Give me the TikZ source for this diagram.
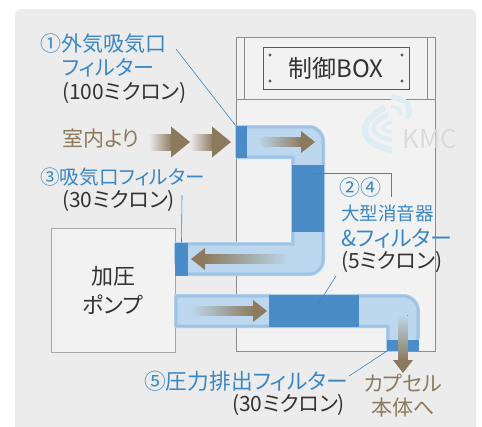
\documentclass[tikz,border=0pt]{standalone}
\usepackage{fontspec}
\setmainfont[RawFeature=+palt]{Noto Sans CJK JP}
\definecolor{panelgray}{HTML}{ECECEC}
\definecolor{boxgray}{HTML}{F2F2F2}
\definecolor{ductblue}{HTML}{BDD8EE}
\definecolor{edgeblue}{HTML}{9DC2E3}
\definecolor{softblue}{HTML}{AFCFEA}
\definecolor{filterblue}{HTML}{4A8CC8}
\definecolor{labelblue}{HTML}{3A87C4}
\definecolor{flowbrown}{HTML}{8C7A5E}
\definecolor{wavecyan}{HTML}{DCEDF4}
\tikzset{
  label size/.style={font=\fontsize{#1}{#1}\selectfont},
  blue label/.style={anchor=west,inner sep=0pt,text=labelblue,label size=21},
  black label/.style={anchor=west,inner sep=0pt,text=black!80,label size=21},
  brown label/.style={inner sep=0pt,text=flowbrown,label size=21},
  duct/.style={fill=ductblue,draw=softblue,line width=4pt,line join=round,
    postaction={draw=edgeblue,line width=2pt}},
  filter/.style={fill=filterblue,draw=none,inner sep=0pt},
  leader/.style={draw=labelblue,line width=0.6pt},
  cabinet line/.style={draw=black!45,line width=0.7pt},
  fade right/.style={left color=#1,right color=flowbrown},
  fade left/.style={left color=flowbrown,right color=#1},
  fade down/.style={top color=#1,bottom color=flowbrown},
}
% tip x, tip y, length, fade colour
\newcommand{\arrowright}[4]{
  \fill[fade right=#4] (#1-#3,#2-4.5) rectangle (#1-13,#2+4.5);
  \fill[flowbrown] (#1-14,#2-11) -- (#1,#2) -- (#1-14,#2+11) -- cycle;}
\newcommand{\arrowleft}[4]{
  \fill[fade left=#4] (#1+13,#2-4.5) rectangle (#1+#3,#2+4.5);
  \fill[flowbrown] (#1+14,#2-11) -- (#1,#2) -- (#1+14,#2+11) -- cycle;}
\newcommand{\arrowdown}[4]{
  \fill[fade down=#4] (#1-4.5,#2-#3) rectangle (#1+4.5,#2-13);
  \fill[flowbrown] (#1-10,#2-13) -- (#1,#2) -- (#1+10,#2-13) -- cycle;}
\newcommand{\arrowroom}[2]{
  \fill[fade right=panelgray] (#1-41,#2-8) rectangle (#1-18,#2+8);
  \fill[flowbrown] (#1-19,#2-15.5) -- (#1,#2) -- (#1-19,#2+15.5) -- cycle;}
\begin{document}
\begin{tikzpicture}[x=1pt,y=-1pt]
  \useasboundingbox (0,0) rectangle (482,426);
  \fill[panelgray,rounded corners=6pt] (15,9) -- (476,9) -- (476,440) -- (15,440) -- cycle;

  % cabinet
  \node[cabinet line,fill=boxgray,minimum width=199.5pt,minimum height=314pt,inner sep=0pt] (cabinet) at (335.75,194) {};
  \draw[cabinet line] (236,99) -- (435.5,99);
  \draw[cabinet line] (244,37) -- (244,99);
  \draw[cabinet line] (427,37) -- (427,99);
  \node[draw=black!65,line width=0.8pt,minimum width=146pt,minimum height=41.5pt,inner sep=0pt,
    label size=24,text=black!80] (plate) at (336,68.5) {制御BOX};
  \foreach \x in {270,402}
    \foreach \y in {55,81}
      \fill[black!65] (\x,\y) circle (1.6pt);

  % watermark
  \begin{scope}[wavecyan]
    \draw[line width=5pt] (391,97) .. controls (404,98) and (414,106) .. (407,118);
    \draw[line width=3pt] (391,106) .. controls (397,107) and (402,110) .. (401,115);
    \draw[line width=6pt] (385,108) .. controls (362,118) and (352,142) .. (392,150);
    \draw[line width=4pt] (388,115) .. controls (370,122) and (365,135) .. (392,140);
    \draw[line width=3pt] (392,122) .. controls (382,125) and (378,130) .. (392,132);
  \end{scope}
  \node[text=black!14,inner sep=0pt,label size=26] (logo) at (430,139) {KMC};

  % pump
  \node[draw=black!35,line width=0.8pt,fill=boxgray,minimum size=124pt,inner sep=0pt,align=center,
    text=black!80,font=\fontsize{22}{29}\selectfont] (pump) at (113,290) {加圧\\ポンプ};

  % ducts
  \path[duct] (237,127) [rounded corners=14pt] -- (323,127) -- (323,274) -- (176,274) [sharp corners]
    -- (176,244) -- (293,244) -- (293,157) -- (237,157) -- cycle;
  \path[duct] (176,296) [rounded corners=15pt] -- (418,296) -- (418,350) [sharp corners] -- (388,350)
    -- (388,326) -- (176,326) -- cycle;

  % filters
  \node[filter,minimum width=11pt,minimum height=32pt] (filterone) at (241.5,142) {};
  \node[filter,minimum width=32pt,minimum height=67pt] (filtertwo) at (308,198.5) {};
  \node[filter,minimum width=13pt,minimum height=33pt] (filterthree) at (181.5,259) {};
  \node[filter,minimum width=90pt,minimum height=32pt] (filterfour) at (314,311) {};
  \node[filter,minimum width=32pt,minimum height=11pt] (filterfive) at (403,345.5) {};

  % flow arrows
  \arrowroom{190}{142}
  \arrowroom{231}{142}
  \arrowright{315}{142}{57}{ductblue}
  \arrowleft{191}{259}{99}{ductblue}
  \arrowright{267}{311}{77}{ductblue}
  \arrowdown{403}{373}{58}{ductblue}

  % labels
  \node[blue label] (labelone) at (40,44) {①外気吸気口};
  \node[blue label] at (62,68) {フィルター};
  \node[black label] at (62,93) {(100ミクロン)};
  \node[brown label,anchor=west] (roomlabel) at (62,139) {室内より};
  \node[blue label,label size=19.6] (labelthree) at (40,177) {③吸気口フィルター};
  \node[black label] (sizethree) at (62,201) {(30ミクロン)};
  \node[blue label] (labeltwo) at (339,188) {②④};
  \node[blue label,label size=18.5] at (341,213) {大型消音器};
  \node[blue label,label size=22] at (341,238) {\&フィルター};
  \node[black label] (sizetwo) at (341,262) {(5ミクロン)};
  \node[blue label,label size=21.7] (labelfive) at (144,381) {⑤圧力排出フィルター};
  \node[black label] at (232,405) {(30ミクロン)};
  \node[brown label] (capsule) at (403,383) {カプセル};
  \node[brown label] at (403,408) {本体へ};

  % leaders
  \coordinate (leadone) at (176,49);
  \coordinate (leadthree) at (182,195);
  \coordinate (leadtwo) at (310,173);
  \coordinate (leadtwoend) at (391.5,197);
  \coordinate (leadfour) at (336,276);
  \coordinate (leadfourend) at (317,306);
  \coordinate (leadfive) at (349,376);
  \draw[leader] (leadone) -- (filterone.north west);
  \draw[leader] (leadthree) -- (filterthree.north);
  \draw[leader] (leadtwo) -- (391.5,173) -- (leadtwoend);
  \draw[leader] (leadfour) -- (leadfourend);
  \draw[leader] (leadfive) -- (filterfive.south west);
\end{tikzpicture}
\end{document}
